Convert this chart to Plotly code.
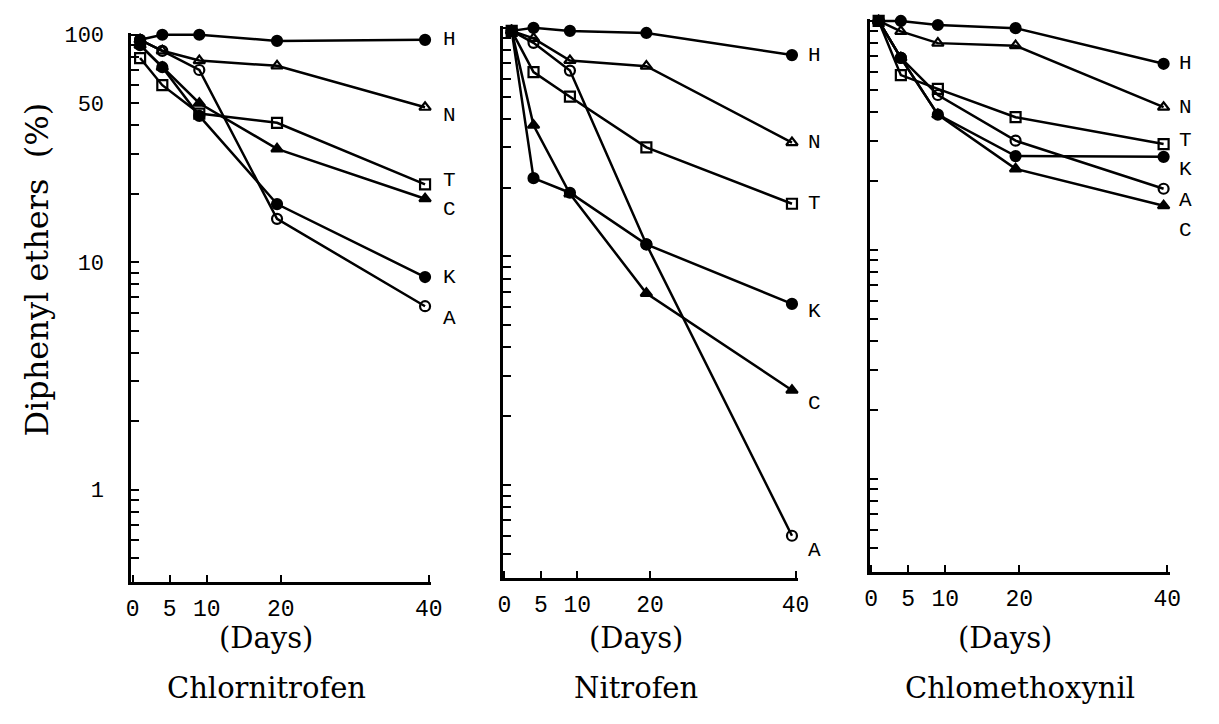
import math
import plotly.graph_objects as go

# ---------------- data ----------------
DAYS = [1, 4, 9, 19.5, 39.5]
SERIES = ["H", "N", "T", "C", "K", "A"]
PANELS = ["Chlornitrofen", "Nitrofen", "Chlomethoxynil"]

# Chlornitrofen (% remaining)
P1_H = [95, 100, 100, 94, 95]
P1_N = [95, 85, 77, 73, 48]
P1_T = [79, 60, 45, 41, 22]
P1_C = [90, 72, 50, 31.5, 19]
P1_K = [90, 72, 44, 18, 8.6]
P1_A = [95, 85, 70, 15.5, 6.4]

# Nitrofen
P2_H = [97, 100, 97, 95, 76]
P2_N = [97, 90, 72, 68, 31.5]
P2_T = [97, 64, 50, 30, 17]
P2_C = [97, 37.5, 18.8, 6.9, 2.6]
P2_K = [97, 22, 19, 11.3, 6.2]
P2_A = [97, 86, 65, 11.3, 0.6]

# Chlomethoxynil
P3_H = [100, 100, 96, 93, 65]
P3_N = [100, 90, 80, 78, 42]
P3_T = [100, 58, 50.5, 38, 29]
P3_C = [100, 69, 39, 22.6, 15.6]
P3_K = [100, 69, 39, 25.7, 25.5]
P3_A = [100, 69, 47.5, 30, 18.5]

X_TICKS = [0, 5, 10, 20, 40]
X_TICK_LABELS = ["0", "5", "10", "20", "40"]
Y_TICKS = [0.5, 0.6, 0.7, 0.8, 0.9, 1, 2, 3, 4, 5, 6, 7, 8, 9, 10,
           20, 30, 40, 50, 60, 70, 80, 90, 100]
Y_TICK_LABELS = {1: "1", 10: "10", 50: "50", 100: "100"}
Y_TITLE = "Diphenyl ethers  (%)"
X_TITLE = "(Days)"

panel_data = [
    dict(zip(SERIES, [P1_H, P1_N, P1_T, P1_C, P1_K, P1_A])),
    dict(zip(SERIES, [P2_H, P2_N, P2_T, P2_C, P2_K, P2_A])),
    dict(zip(SERIES, [P3_H, P3_N, P3_T, P3_C, P3_K, P3_A])),
]

# ---------------- styles ----------------
W, H = 1219, 724
SYMBOLS = {"H": "circle", "N": "triangle-up-open", "T": "square-open",
           "C": "triangle-up", "K": "circle", "A": "circle-open"}
# pixel layout of each panel: (x_left, x_right, y_top, y_bottom)
PANEL_PX = [(128, 432, 25, 580), (505, 804, 18, 576), (877, 1181, 11, 570)]
LABEL_YSHIFT = [
    {"H": 0, "N": -8, "T": 4, "C": -11, "K": 0, "A": -12},
    {"H": 0, "N": 0, "T": 0, "C": -13, "K": -8, "A": -15},
    {"H": 0, "N": 0, "T": 4, "C": -25, "K": -13, "A": -12},
]
LABEL_XSHIFT = [12, 10, 10]
MONO = "Liberation Mono"
SERIF = "DejaVu Serif"

fig = go.Figure()
annotations = []

for i, pdata in enumerate(panel_data):
    n = "" if i == 0 else str(i + 1)
    xl, xr, yt, yb = PANEL_PX[i]
    for s in SERIES:
        fig.add_trace(go.Scatter(
            x=DAYS, y=pdata[s], mode="lines+markers",
            xaxis="x" + n, yaxis="y" + n, name=s,
            line=dict(color="black", width=2.5),
            marker=dict(symbol=SYMBOLS[s], size=10, color="black",
                        line=dict(color="black", width=2.2)),
            showlegend=False, cliponaxis=False,
        ))
        annotations.append(dict(
            x=X_TICKS[-1], y=math.log10(pdata[s][-1]),
            xref="x" + n, yref="y" + n, text=s, showarrow=False,
            xanchor="left", yanchor="middle",
            xshift=LABEL_XSHIFT[i], yshift=LABEL_YSHIFT[i][s],
            font=dict(family=MONO, size=21, color="black"),
        ))
    xaxis = dict(
        domain=[xl / W, xr / W], range=[-0.2, 40.3],
        showline=True, linecolor="black", linewidth=2.5,
        ticks="inside", ticklen=7, tickwidth=2, tickcolor="black",
        tickvals=X_TICKS, ticktext=X_TICK_LABELS,
        tickfont=dict(family=MONO, size=23, color="black"),
        ticklabelstandoff=4,
        showgrid=False, zeroline=False, anchor="y" + n, fixedrange=True,
    )
    yaxis = dict(
        domain=[1 - yb / H, 1 - yt / H], type="log", range=[-0.405, 2.009],
        showline=True, linecolor="black", linewidth=2.5,
        ticks="inside", ticklen=8, tickwidth=2, tickcolor="black",
        tickvals=Y_TICKS,
        ticktext=[Y_TICK_LABELS.get(v, "") for v in Y_TICKS],
        showticklabels=(i == 0),
        tickfont=dict(family=MONO, size=22, color="black"),
        ticklabelstandoff=20,
        showgrid=False, zeroline=False, anchor="x" + n, fixedrange=True,
    )
    fig.update_layout(**{"xaxis" + n: xaxis, "yaxis" + n: yaxis})

    annotations.append(dict(
        x=0.45, y=1 - 637 / H, xref="x%s domain" % n, yref="paper",
        text=X_TITLE, showarrow=False, xanchor="center", yanchor="middle",
        font=dict(family=SERIF, size=29, color="black"),
    ))
    annotations.append(dict(
        x=0.45 if i < 2 else 0.5, y=1 - 688 / H, xref="x%s domain" % n, yref="paper",
        text=PANELS[i], showarrow=False, xanchor="center", yanchor="middle",
        font=dict(family=SERIF, size=29, color="black"),
    ))

annotations.append(dict(
    x=33 / W, y=1 - 265 / H, xref="paper", yref="paper",
    text=Y_TITLE, textangle=-90, showarrow=False,
    xanchor="center", yanchor="middle",
    font=dict(family=SERIF, size=32, color="black"),
))

fig.update_layout(
    width=W, height=H, autosize=False,
    margin=dict(l=0, r=0, t=0, b=0),
    paper_bgcolor="white", plot_bgcolor="white",
    showlegend=False, annotations=annotations,
)

fig.write_html("out.html", config={"displayModeBar": False},
               post_script="document.body.style.margin='0';"
                           "document.body.style.overflow='hidden';")
